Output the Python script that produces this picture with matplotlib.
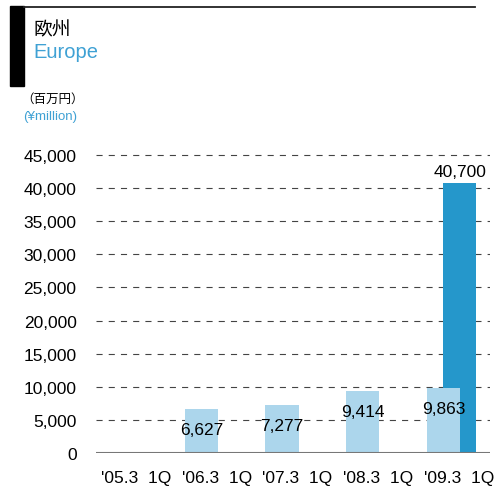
import matplotlib
matplotlib.use('Agg')
import matplotlib.pyplot as plt
from matplotlib.ticker import FuncFormatter
import numpy as np

plt.rcParams['font.family'] = ['Liberation Sans Narrow', 'Liberation Sans', 'Noto Sans CJK JP', 'DejaVu Sans']

# Data
periods = ["'05.3  1Q", "'06.3  1Q", "'07.3  1Q", "'08.3  1Q", "'09.3  1Q"]
q1_values = [0, 6627, 7277, 9414, 9863]
full_year = [None, None, None, None, 40700]

light_blue = '#acd6ec'
dark_blue = '#2597cb'
text_blue = '#3fa1d4'

fig = plt.figure(figsize=(4.95, 4.89), dpi=100)
ax = fig.add_axes([96/495, 1 - 454/489, 394/495, (454 - 150)/489])

x = np.arange(len(periods))
w = 0.41
off = 0.1

# dark bar behind the light one
for i, v in enumerate(full_year):
    if v is not None:
        ax.bar(x[i] + off, v, width=w, color=dark_blue, zorder=2)
        ax.text(x[i] + off, v + 1800, f'{v:,}', ha='center', va='center',
                fontsize=12.5, color='black', zorder=4)

for i, v in enumerate(q1_values):
    if v > 0:
        ax.bar(x[i] - off, v, width=w, color=light_blue, zorder=3)
        ax.text(x[i] - off, v - 3100, f'{v:,}', ha='center', va='center',
                fontsize=12.5, color='black', zorder=4)

ax.set_xlim(-0.405, 4.477)
ax.set_ylim(0, 45000 * 1.02)
ax.set_yticks(range(0, 45001, 5000))
ax.yaxis.set_major_formatter(FuncFormatter(lambda v, p: f'{int(v):,}'))
ax.set_xticks(x + 0.09)
ax.set_xticklabels(periods)

ax.grid(axis='y', color='#444444', linestyle=(0, (5.5, 5.5)), linewidth=0.8, zorder=1)
ax.axhline(0, color='#777777', linewidth=1.5, zorder=5)

for s in ax.spines.values():
    s.set_visible(False)
ax.tick_params(axis='both', length=0, labelsize=12.5)
ax.tick_params(axis='y', pad=14)
ax.tick_params(axis='x', pad=12)

# Header
fig.patches.append(plt.Rectangle((10/495, 1 - 87/489), 14/495, 80/489,
                                 transform=fig.transFigure, color='black'))
fig.lines.append(plt.Line2D([24/495, 475/495], [1 - 8/489, 1 - 8/489],
                            transform=fig.transFigure, color='#222222', linewidth=1.3))
fig.text(33/495, 1 - 30/489, '欧州', fontsize=13.5, va='center', ha='left',
         family=['Noto Sans CJK JP'])
fig.text(33/495, 1 - 52/489, 'Europe', fontsize=14.5, va='center', ha='left',
         color=text_blue, family=['Liberation Sans', 'DejaVu Sans'])
fig.text(21/495, 1 - 99/489, '（百万円）', fontsize=9, va='center', ha='left',
         family=['Noto Sans CJK JP'])
fig.text(23/495, 1 - 117/489, '(¥million)', fontsize=9.5, va='center', ha='left',
         color=text_blue, family=['Liberation Sans', 'DejaVu Sans'])

fig.savefig('out.png', dpi=100)
